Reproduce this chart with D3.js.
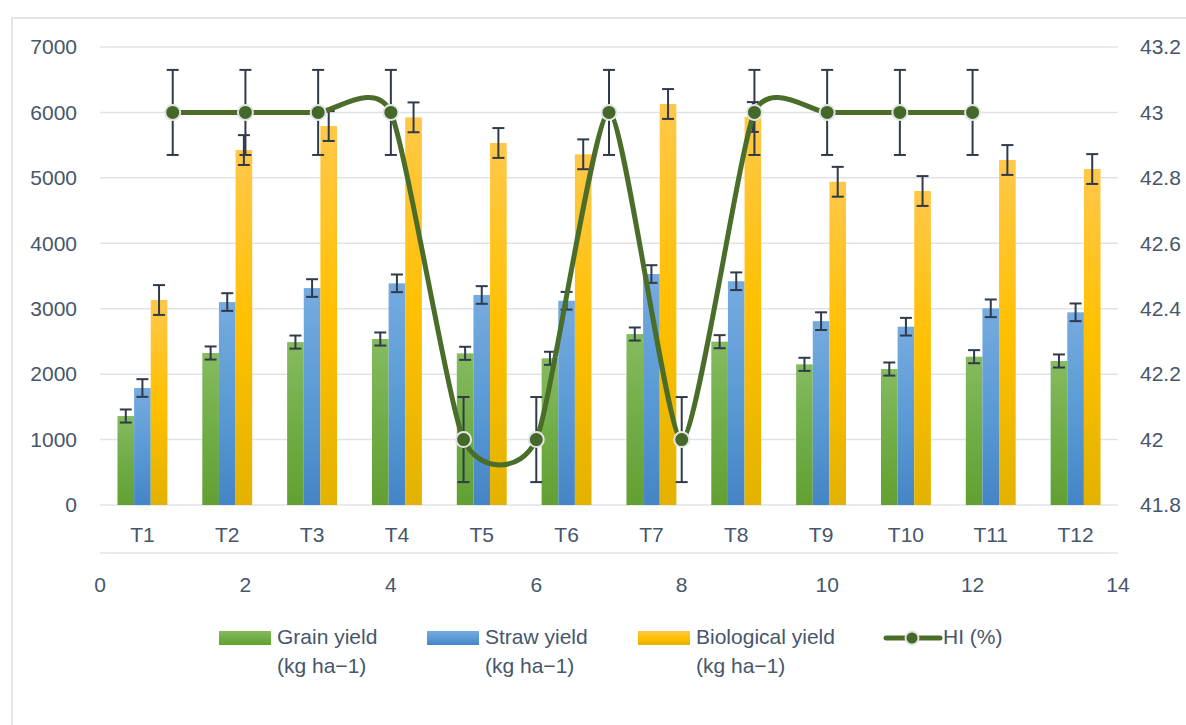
<!DOCTYPE html>
<html>
<head>
<meta charset="utf-8">
<script src="https://cdn.jsdelivr.net/npm/d3@7"></script>
<style>
  body { margin: 0; background: #fff; }
  text { font-family: "Liberation Sans", Arial, sans-serif; fill: #46566b; }
</style>
</head>
<body>
<div id="chart"></div>
<script>
// data
var categories = ["T1","T2","T3","T4","T5","T6","T7","T8","T9","T10","T11","T12"];
var grainYield = [1360, 2323, 2490, 2537, 2318, 2242, 2613, 2496, 2150, 2078, 2267, 2201];
var strawYield = [1788, 3102, 3316, 3388, 3210, 3122, 3530, 3420, 2810, 2725, 3006, 2945];
var bioYield   = [3133, 5425, 5792, 5925, 5533, 5360, 6129, 5930, 4940, 4799, 5273, 5135];
var grainErr = [100,100,100,100,100,100,100,100,100,100,100,100];
var strawErr = [135,135,135,135,135,135,135,135,135,135,135,135];
var bioErr   = [228,228,228,228,228,228,228,228,228,228,228,228];
var hiX   = [1,2,3,4,5,6,7,8,9,10,11,12];
var hiVal = [43,43,43,43,42,42,43,42,43,43,43,43];
var hiErr = [0.13,0.13,0.13,0.13,0.13,0.13,0.13,0.13,0.13,0.13,0.13,0.13];
var leftTicks  = [0,1000,2000,3000,4000,5000,6000,7000];
var rightTicks = [41.8,42,42.2,42.4,42.6,42.8,43,43.2];
var xTicks = [0,2,4,6,8,10,12,14];
var seriesNames = [["Grain yield","(kg ha\u22121)"],["Straw yield","(kg ha\u22121)"],["Biological yield","(kg ha\u22121)"]];

var width = 1186, height = 725;
var plotLeft = 100, plotRight = 1118, plotTop = 47, plotBottom = 505;
var gridColor = "#dfe3e8", errColor = "#2f3a4b";
var lineColor = "#4a6e2a";
var fontSize = "21px";

var svg = d3.select("#chart").append("svg")
  .attr("width", width).attr("height", height);

// gradients like the office fills
var gradDefs = [
  {id: "gGreen",  stops: ["#86bb60", "#70ad47", "#62a033"]},
  {id: "gBlue",   stops: ["#76abe0", "#5b9bd5", "#4585c6"]},
  {id: "gYellow", stops: ["#ffc84a", "#ffc000", "#e3b200"]}
];
var defs = svg.append("defs");
gradDefs.forEach(function(g) {
  var lg = defs.append("linearGradient").attr("id", g.id)
    .attr("x1", 0).attr("y1", 0).attr("x2", 0).attr("y2", 1);
  lg.append("stop").attr("offset", "0%").attr("stop-color", g.stops[0]);
  lg.append("stop").attr("offset", "50%").attr("stop-color", g.stops[1]);
  lg.append("stop").attr("offset", "100%").attr("stop-color", g.stops[2]);
});

// outer frame
svg.append("rect")
  .attr("x", 12).attr("y", 18).attr("width", 1200).attr("height", 760)
  .attr("fill", "none").attr("stroke", "#d9dde3").attr("stroke-width", 1.5);

// scales
var yLeft = d3.scaleLinear().domain([0, 7000]).range([plotBottom, plotTop]);
var yRight = d3.scaleLinear().domain([41.8, 43.2]).range([plotBottom, plotTop]);
var xBand = d3.scaleBand().domain(categories).range([plotLeft, plotRight]);
var xSub = d3.scaleBand().domain(["g","s","b"])
  .range([0, xBand.bandwidth()]).paddingOuter(1.05).paddingInner(0);
var xVal = d3.scaleLinear().domain([0, 14]).range([plotLeft, plotRight]);

// gridlines
svg.append("g").selectAll("line").data(leftTicks).enter().append("line")
  .attr("x1", plotLeft).attr("x2", plotRight)
  .attr("y1", function(d) { return yLeft(d); })
  .attr("y2", function(d) { return yLeft(d); })
  .attr("stroke", gridColor).attr("stroke-width", 1.5);

// left axis labels
svg.append("g").selectAll("text").data(leftTicks).enter().append("text")
  .attr("x", 77).attr("y", function(d) { return yLeft(d); })
  .attr("dy", "0.35em").attr("text-anchor", "end")
  .style("font-size", fontSize).text(function(d) { return d; });

// right axis labels
svg.append("g").selectAll("text").data(rightTicks).enter().append("text")
  .attr("x", 1140).attr("y", function(d) { return yRight(d); })
  .attr("dy", "0.35em").attr("text-anchor", "start")
  .style("font-size", fontSize).text(function(d) { return d3.format("")(+d.toFixed(1)); });

// category labels
svg.append("g").selectAll("text").data(categories).enter().append("text")
  .attr("x", function(d) { return xBand(d) + xBand.bandwidth() / 2; })
  .attr("y", 535).attr("dy", "0.35em").attr("text-anchor", "middle")
  .style("font-size", fontSize).text(function(d) { return d; });

// secondary horizontal value axis
svg.append("line").attr("x1", plotLeft).attr("x2", plotRight).attr("y1", 553).attr("y2", 553)
  .attr("stroke", gridColor).attr("stroke-width", 1.5);
svg.append("g").selectAll("text").data(xTicks).enter().append("text")
  .attr("x", function(d) { return xVal(d); })
  .attr("y", 585).attr("dy", "0.35em").attr("text-anchor", "middle")
  .style("font-size", fontSize).text(function(d) { return d; });

// bars
var series = [
  {key: "g", vals: grainYield, errs: grainErr, fill: "url(#gGreen)"},
  {key: "s", vals: strawYield, errs: strawErr, fill: "url(#gBlue)"},
  {key: "b", vals: bioYield, errs: bioErr, fill: "url(#gYellow)"}
];
var barG = svg.append("g");
series.forEach(function(s) {
  barG.append("g").selectAll("rect").data(s.vals).enter().append("rect")
    .attr("x", function(d, i) { return xBand(categories[i]) + xSub(s.key); })
    .attr("width", xSub.bandwidth())
    .attr("y", function(d) { return yLeft(d); })
    .attr("height", function(d) { return plotBottom - yLeft(d); })
    .attr("fill", s.fill);
});

function errorBar(g, cx, y1, y2, cap) {
  g.append("line").attr("x1", cx).attr("x2", cx).attr("y1", y1).attr("y2", y2);
  g.append("line").attr("x1", cx - cap).attr("x2", cx + cap).attr("y1", y1).attr("y2", y1);
  g.append("line").attr("x1", cx - cap).attr("x2", cx + cap).attr("y1", y2).attr("y2", y2);
}

var errG = svg.append("g").attr("stroke", errColor).attr("stroke-width", 2);
series.forEach(function(s) {
  s.vals.forEach(function(v, i) {
    var cx = xBand(categories[i]) + xSub(s.key) + xSub.bandwidth() / 2;
    errorBar(errG, cx, yLeft(v + s.errs[i]), yLeft(v - s.errs[i]), 6);
  });
});

// HI series on secondary axes
var hiData = hiX.map(function(x, i) { return {x: x, y: hiVal[i], e: hiErr[i]}; });
var hiErrG = svg.append("g").attr("stroke", errColor).attr("stroke-width", 2);
hiData.forEach(function(d) {
  errorBar(hiErrG, xVal(d.x), yRight(d.y + d.e), yRight(d.y - d.e), 6);
});

var line = d3.line()
  .x(function(d) { return xVal(d.x); })
  .y(function(d) { return yRight(d.y); })
  .curve(d3.curveCardinal.tension(0.38));

svg.append("path").datum(hiData)
  .attr("d", line).attr("fill", "none")
  .attr("stroke", lineColor).attr("stroke-width", 5);

svg.append("g").selectAll("circle").data(hiData).enter().append("circle")
  .attr("cx", function(d) { return xVal(d.x); })
  .attr("cy", function(d) { return yRight(d.y); })
  .attr("r", 7.5)
  .attr("fill", "#44682a").attr("stroke", "#e3e5e2").attr("stroke-width", 2);

// legend
var legend = svg.append("g");
var swatchX = [219, 427, 638];
var legendFill = ["url(#gGreen)", "url(#gBlue)", "url(#gYellow)"];
seriesNames.forEach(function(name, i) {
  legend.append("rect").attr("x", swatchX[i]).attr("y", 631)
    .attr("width", 52).attr("height", 14).attr("fill", legendFill[i]);
  var t = legend.append("text").attr("x", swatchX[i] + 58).attr("y", 644)
    .style("font-size", fontSize);
  t.append("tspan").attr("x", swatchX[i] + 58).attr("y", 644).text(name[0]);
  t.append("tspan").attr("x", swatchX[i] + 58).attr("y", 673).text(name[1]);
});
legend.append("line").attr("x1", 886).attr("x2", 940).attr("y1", 638).attr("y2", 638)
  .attr("stroke", lineColor).attr("stroke-width", 5).attr("stroke-linecap", "round");
legend.append("circle").attr("cx", 912).attr("cy", 638).attr("r", 6.5)
  .attr("fill", "#44682a").attr("stroke", "#e3e5e2").attr("stroke-width", 2);
legend.append("text").attr("x", 943).attr("y", 644).style("font-size", fontSize).text("HI (%)");
</script>
</body>
</html>
